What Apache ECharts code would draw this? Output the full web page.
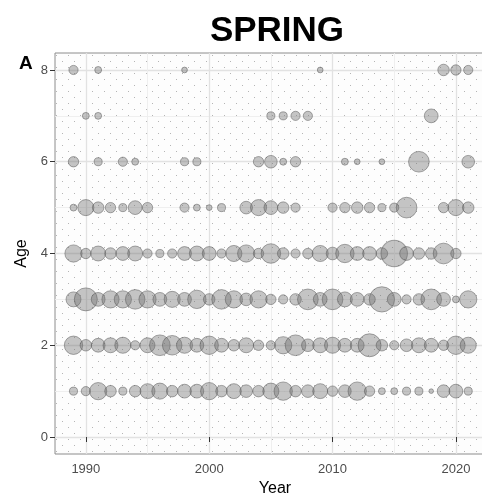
<!DOCTYPE html>
<html>
<head>
<meta charset="utf-8">
<script src="https://cdn.jsdelivr.net/npm/echarts@6/dist/echarts.min.js"></script>
<style>
  html, body { margin: 0; padding: 0; background: #fff; }
  #chart { width: 482px; height: 497px; }
</style>
</head>
<body>
<div id="chart"></div>
<script>
// years on the x axis
const years = [1989, 1990, 1991, 1992, 1993, 1994, 1995, 1996, 1997, 1998, 1999,
  2000, 2001, 2002, 2003, 2004, 2005, 2006, 2007, 2008, 2009, 2010,
  2011, 2012, 2013, 2014, 2015, 2016, 2017, 2018, 2019, 2020, 2021]
const ages = [1, 2, 3, 4, 5, 6, 7, 8]
// bubble size per year (0 = no fish of that age)
const age1 = [7, 8, 15, 10, 7, 10, 13, 14, 10, 12, 12, 15, 10, 13, 11, 10, 14, 16, 10, 11, 13, 9, 11, 16, 9, 6, 6, 7, 7, 4, 11, 12, 7]
const age2 = [16, 10, 12, 13, 14, 8, 13, 18, 17, 14, 12, 16, 12, 10, 13, 9, 8, 15, 18, 11, 13, 14, 12, 12, 20, 10, 8, 11, 13, 12, 9, 16, 14]
const age3 = [13, 20, 12, 15, 15, 17, 15, 12, 14, 12, 16, 10, 17, 15, 11, 15, 9, 8, 10, 18, 12, 18, 13, 12, 10, 22, 12, 8, 10, 18, 12, 6, 15]
const age4 = [15, 9, 13, 10, 12, 13, 8, 7, 8, 12, 13, 12, 8, 14, 15, 9, 17, 10, 8, 9, 14, 11, 16, 12, 12, 10, 23, 12, 10, 10, 18, 9, 0]
const age5 = [6, 14, 10, 9, 7, 12, 9, 0, 0, 8, 6, 5, 7, 0, 11, 14, 12, 10, 8, 0, 0, 8, 9, 10, 9, 7, 8, 18, 0, 0, 9, 14, 10]
const age6 = [9, 0, 7, 0, 8, 6, 0, 0, 0, 7, 7, 0, 0, 0, 0, 9, 11, 6, 9, 0, 0, 0, 6, 5, 0, 5, 0, 0, 18, 0, 0, 0, 11]
const age7 = [0, 6, 6, 0, 0, 0, 0, 0, 0, 0, 0, 0, 0, 0, 0, 0, 7, 7, 8, 8, 0, 0, 0, 0, 0, 0, 0, 0, 0, 12, 0, 0, 0]
const age8 = [8, 0, 6, 0, 0, 0, 0, 0, 0, 5, 0, 0, 0, 0, 0, 0, 0, 0, 0, 0, 5, 0, 0, 0, 0, 0, 0, 0, 0, 0, 10, 9, 8]
const xTicks = [1990, 2000, 2010, 2020]
const xMinor = [1995, 2005, 2015]
const yTicks = [0, 2, 4, 6, 8]
const yMinor = [1, 3, 5, 7]

const rows = [age1, age2, age3, age4, age5, age6, age7, age8]
const points = []
rows.forEach((row, i) => {
  row.forEach((v, j) => {
    if (v > 0) points.push([years[j], ages[i], v])
  })
})

// dotted texture of the panel
const pat = document.createElement("canvas")
pat.width = 12
pat.height = 12
const pctx = pat.getContext("2d")
pctx.fillStyle = "#fdfdfd"
pctx.fillRect(0, 0, 12, 12)
pctx.fillStyle = "rgba(150,150,150,0.7)"
pctx.fillRect(2, 1, 1, 1)
pctx.fillRect(8, 7, 1, 1)

const chart = echarts.init(document.getElementById("chart"))
const axisText = { color: "#4d4d4d", fontSize: 13, fontFamily: "Liberation Sans" }
const gridLine = { show: true, lineStyle: { color: "#e2e2e2", width: 1.3 } }
const minorLine = { show: true, lineStyle: { color: "#ededed", width: 0.9 } }

chart.setOption({
  animation: false,
  title: [
    {
      text: "SPRING",
      left: 272,
      top: 9,
      textAlign: "center",
      textStyle: { fontSize: 35, fontWeight: "bold", color: "#000", fontFamily: "Liberation Sans" },
    },
    {
      text: "A",
      left: 14,
      top: 49,
      textStyle: { fontSize: 19, fontWeight: "bold", color: "#000", fontFamily: "Liberation Sans" },
    },
  ],
  grid: {
    left: 55,
    top: 53,
    width: 440,
    height: 401,
    outerBoundsMode: "none",
    show: true,
    borderColor: "#8c8c8c",
    borderWidth: 1,
    backgroundColor: { image: pat, repeat: "repeat" },
  },
  xAxis: [
    {
      type: "value",
      min: 1987.5,
      max: 2023.17,
      name: "Year",
      nameLocation: "middle",
      nameGap: 27,
      nameTextStyle: { color: "#000", fontSize: 16, fontFamily: "Liberation Sans" },
      axisLine: { show: false },
      axisTick: { show: true, length: 5, customValues: xTicks, lineStyle: { color: "#333" } },
      axisLabel: { ...axisText, margin: 9, customValues: xTicks, formatter: (v) => String(v) },
      splitLine: gridLine,
    },
    {
      type: "value",
      min: 1987.5,
      max: 2023.17,
      position: "bottom",
      axisLine: { show: false },
      axisTick: { show: false, customValues: xMinor },
      axisLabel: { show: false },
      splitLine: minorLine,
    },
  ],
  yAxis: [
    {
      type: "value",
      min: -0.37,
      max: 8.37,
      name: "Age",
      nameLocation: "middle",
      nameGap: 22,
      nameTextStyle: { color: "#000", fontSize: 16, fontFamily: "Liberation Sans" },
      axisLine: { show: false },
      axisTick: { show: true, length: 5, customValues: yTicks, lineStyle: { color: "#333" } },
      axisLabel: { ...axisText, margin: 7, customValues: yTicks },
      splitLine: gridLine,
    },
    {
      type: "value",
      min: -0.37,
      max: 8.37,
      position: "left",
      axisLine: { show: false },
      axisTick: { show: false, customValues: yMinor },
      axisLabel: { show: false },
      splitLine: minorLine,
    },
  ],
  series: [
    {
      type: "scatter",
      data: points,
      symbolSize: (d) => d[2] * 1.15,
      itemStyle: {
        color: "rgba(110,110,110,0.5)",
        borderColor: "rgba(80,80,80,0.6)",
        borderWidth: 1,
      },
    },
  ],
})
</script>
</body>
</html>
